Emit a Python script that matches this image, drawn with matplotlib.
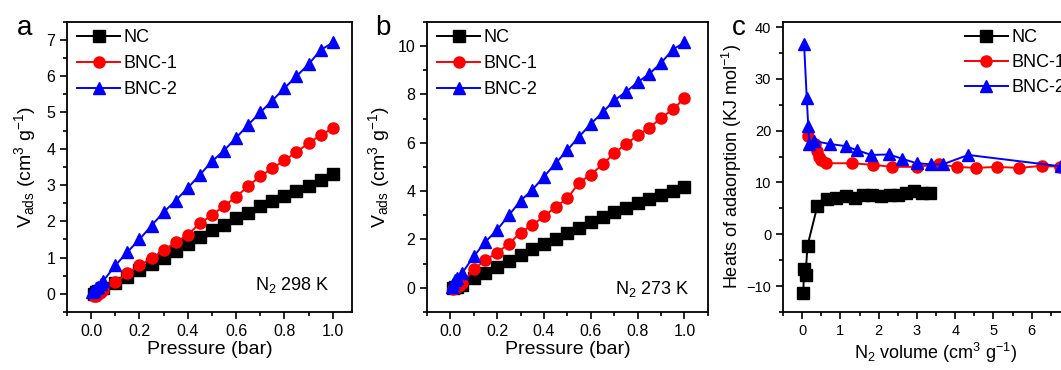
import numpy as np
import matplotlib
matplotlib.use('Agg')
import matplotlib.pyplot as plt
from matplotlib.ticker import MultipleLocator

plt.rcParams['font.family'] = ['Liberation Sans', 'DejaVu Sans']
plt.rcParams['mathtext.fontset'] = 'custom'
plt.rcParams['mathtext.rm'] = 'Liberation Sans'
plt.rcParams['mathtext.it'] = 'Liberation Sans:italic'

# Panel a: N2 298 K
p_a_nc = [0.01, 0.02, 0.03, 0.05, 0.1, 0.15, 0.2, 0.25, 0.3, 0.35, 0.4, 0.45, 0.5, 0.55, 0.6, 0.65, 0.7, 0.75, 0.8, 0.85, 0.9, 0.95, 1.0]
v_a_nc = [0.0, 0.05, 0.08, 0.15, 0.3, 0.47, 0.65, 0.82, 1.0, 1.18, 1.36, 1.56, 1.75, 1.9, 2.08, 2.24, 2.41, 2.56, 2.7, 2.83, 2.97, 3.13, 3.3]
p_a_b1 = [0.01, 0.02, 0.03, 0.04, 0.05, 0.1, 0.15, 0.2, 0.25, 0.3, 0.35, 0.4, 0.45, 0.5, 0.55, 0.6, 0.65, 0.7, 0.75, 0.8, 0.85, 0.9, 0.95, 1.0]
v_a_b1 = [-0.05, -0.05, 0.0, 0.05, 0.1, 0.32, 0.56, 0.78, 0.98, 1.2, 1.42, 1.63, 1.94, 2.17, 2.42, 2.67, 2.97, 3.24, 3.46, 3.68, 3.91, 4.15, 4.38, 4.56]
p_a_b2 = [0.005, 0.01, 0.02, 0.03, 0.04, 0.05, 0.1, 0.15, 0.2, 0.25, 0.3, 0.35, 0.4, 0.45, 0.5, 0.55, 0.6, 0.65, 0.7, 0.75, 0.8, 0.85, 0.9, 0.95, 1.0]
v_a_b2 = [0.05, 0.08, 0.15, 0.2, 0.28, 0.35, 0.78, 1.15, 1.5, 1.88, 2.25, 2.57, 2.92, 3.28, 3.65, 3.95, 4.3, 4.66, 5.0, 5.33, 5.67, 6.0, 6.33, 6.72, 6.93]

# Panel b: N2 273 K
p_b_nc = [0.01, 0.02, 0.03, 0.05, 0.1, 0.15, 0.2, 0.25, 0.3, 0.35, 0.4, 0.45, 0.5, 0.55, 0.6, 0.65, 0.7, 0.75, 0.8, 0.85, 0.9, 0.95, 1.0]
v_b_nc = [0.0, 0.02, 0.05, 0.1, 0.4, 0.62, 0.87, 1.12, 1.37, 1.6, 1.82, 2.02, 2.28, 2.47, 2.7, 2.93, 3.13, 3.3, 3.5, 3.67, 3.85, 4.0, 4.15]
p_b_b1 = [0.01, 0.02, 0.03, 0.04, 0.05, 0.1, 0.15, 0.2, 0.25, 0.3, 0.35, 0.4, 0.45, 0.5, 0.55, 0.6, 0.65, 0.7, 0.75, 0.8, 0.85, 0.9, 0.95, 1.0]
v_b_b1 = [-0.05, -0.03, 0.02, 0.1, 0.2, 0.76, 1.15, 1.45, 1.82, 2.28, 2.6, 2.95, 3.35, 3.7, 4.35, 4.68, 5.1, 5.56, 5.95, 6.3, 6.62, 7.02, 7.38, 7.83]
p_b_b2 = [0.005, 0.01, 0.02, 0.03, 0.05, 0.1, 0.15, 0.2, 0.25, 0.3, 0.35, 0.4, 0.45, 0.5, 0.55, 0.6, 0.65, 0.7, 0.75, 0.8, 0.85, 0.9, 0.95, 1.0]
v_b_b2 = [0.05, 0.15, 0.3, 0.4, 0.6, 1.3, 1.9, 2.4, 3.0, 3.6, 4.05, 4.6, 5.15, 5.7, 6.25, 6.78, 7.25, 7.75, 8.1, 8.5, 8.85, 9.3, 9.85, 10.15]

# Panel c: heats of adsorption
n_c_nc = [0.03, 0.05, 0.09, 0.14, 0.4, 0.65, 0.88, 1.15, 1.38, 1.6, 1.83, 2.07, 2.3, 2.5, 2.72, 2.93, 3.14, 3.33]
q_c_nc = [-11.4, -6.7, -7.8, -2.2, 5.5, 6.8, 7.0, 7.3, 6.9, 7.5, 7.5, 7.4, 7.5, 7.6, 8.0, 8.3, 8.0, 7.9]
n_c_b1 = [0.14, 0.33, 0.4, 0.45, 0.5, 0.62, 1.3, 1.85, 2.35, 3.0, 3.57, 4.04, 4.55, 5.1, 5.68, 6.26, 6.75]
q_c_b1 = [18.9, 17.5, 16.0, 14.9, 14.3, 13.7, 13.7, 13.4, 13.0, 13.0, 13.5, 13.0, 12.8, 13.0, 12.8, 13.2, 13.0]
n_c_b2 = [0.05, 0.12, 0.16, 0.19, 0.3, 0.74, 1.14, 1.44, 1.81, 2.27, 2.6, 2.99, 3.36, 3.68, 4.34, 6.77]
q_c_b2 = [36.8, 26.3, 20.8, 17.4, 18.0, 17.4, 17.0, 16.2, 15.3, 15.4, 14.6, 13.7, 13.5, 13.5, 15.3, 13.1]

labels = ['NC', 'BNC-1', 'BNC-2']
colors = ['black', '#ff0000', '#0000ff']
markers = ['s', 'o', '^']

fig = plt.figure(figsize=(10.61, 3.70), dpi=100)
ax_a = fig.add_axes([0.0631, 0.157, 0.2687, 0.784])
ax_b = fig.add_axes([0.4024, 0.157, 0.2648, 0.784])
ax_c = fig.add_axes([0.738, 0.157, 0.2885, 0.784])

ylab_v = r'V$_{\mathrm{ads}}$ (cm$^3$ g$^{-1}$)'


def style(ax):
    for s in ax.spines.values():
        s.set_linewidth(1.3)
    ax.tick_params(which='major', direction='out', length=5, width=1.2, labelsize=11.5)
    ax.tick_params(which='minor', direction='out', length=3, width=1.2)


def draw(ax, xs, ys):
    for x, y, lab, c, m in zip(xs, ys, labels, colors, markers):
        ax.plot(x, y, color=c, marker=m, ms=8, lw=1.4, mec=c, label=lab)


# a
draw(ax_a, [p_a_nc, p_a_b1, p_a_b2], [v_a_nc, v_a_b1, v_a_b2])
ax_a.set_xlim(-0.1, 1.08)
ax_a.set_ylim(-0.5, 7.5)
ax_a.xaxis.set_major_locator(MultipleLocator(0.2))
ax_a.xaxis.set_minor_locator(MultipleLocator(0.1))
ax_a.yaxis.set_major_locator(MultipleLocator(1))
ax_a.yaxis.set_minor_locator(MultipleLocator(0.5))
ax_a.xaxis.set_major_formatter(plt.FuncFormatter(lambda v, p: '%.1f' % v))
ax_a.set_xlabel('Pressure (bar)', fontsize=14, labelpad=2)
ax_a.set_ylabel(ylab_v, fontsize=14, labelpad=6)
ax_a.text(0.985, 0.1, r'N$_2$ 298 K', fontsize=13, ha='right', va='baseline')
ax_a.legend(loc='upper left', frameon=False, fontsize=13, handlelength=2.4,
            handletextpad=0.2, labelspacing=0.5, borderaxespad=0.0,
            bbox_to_anchor=(0.01, 1.0))
style(ax_a)

# b
draw(ax_b, [p_b_nc, p_b_b1, p_b_b2], [v_b_nc, v_b_b1, v_b_b2])
ax_b.set_xlim(-0.1, 1.1)
ax_b.set_ylim(-1, 11)
ax_b.xaxis.set_major_locator(MultipleLocator(0.2))
ax_b.xaxis.set_minor_locator(MultipleLocator(0.1))
ax_b.yaxis.set_major_locator(MultipleLocator(2))
ax_b.yaxis.set_minor_locator(MultipleLocator(1))
ax_b.xaxis.set_major_formatter(plt.FuncFormatter(lambda v, p: '%.1f' % v))
ax_b.set_xlabel('Pressure (bar)', fontsize=14, labelpad=2)
ax_b.set_ylabel(ylab_v, fontsize=14, labelpad=4)
ax_b.text(1.02, -0.25, r'N$_2$ 273 K', fontsize=13, ha='right', va='baseline')
ax_b.legend(loc='upper left', frameon=False, fontsize=13, handlelength=2.4,
            handletextpad=0.2, labelspacing=0.5, borderaxespad=0.0,
            bbox_to_anchor=(0.01, 1.0))
style(ax_b)

# c
draw(ax_c, [n_c_nc, n_c_b1, n_c_b2], [q_c_nc, q_c_b1, q_c_b2])
ax_c.set_xlim(-0.5, 7.5)
ax_c.set_ylim(-15, 41)
ax_c.xaxis.set_major_locator(MultipleLocator(1))
ax_c.xaxis.set_minor_locator(MultipleLocator(0.5))
ax_c.yaxis.set_major_locator(MultipleLocator(10))
ax_c.yaxis.set_minor_locator(MultipleLocator(5))
ax_c.set_xlabel(r'N$_2$ volume (cm$^3$ g$^{-1}$)', fontsize=13, labelpad=2)
ax_c.set_ylabel(r'Heats of adaorption (KJ mol$^{-1}$)', fontsize=13, labelpad=2)
ax_c.legend(loc='upper left', bbox_to_anchor=(0.57, 1.0), frameon=False, fontsize=13,
            handlelength=2.4, handletextpad=0.2, labelspacing=0.45, borderaxespad=0)
style(ax_c)
ax_c.tick_params(labelsize=10.5)

# panel letters
fig.text(0.016, 0.905, 'a', fontsize=20)
fig.text(0.354, 0.905, 'b', fontsize=20)
fig.text(0.690, 0.905, 'c', fontsize=20)

fig.savefig('out.png', dpi=100)
